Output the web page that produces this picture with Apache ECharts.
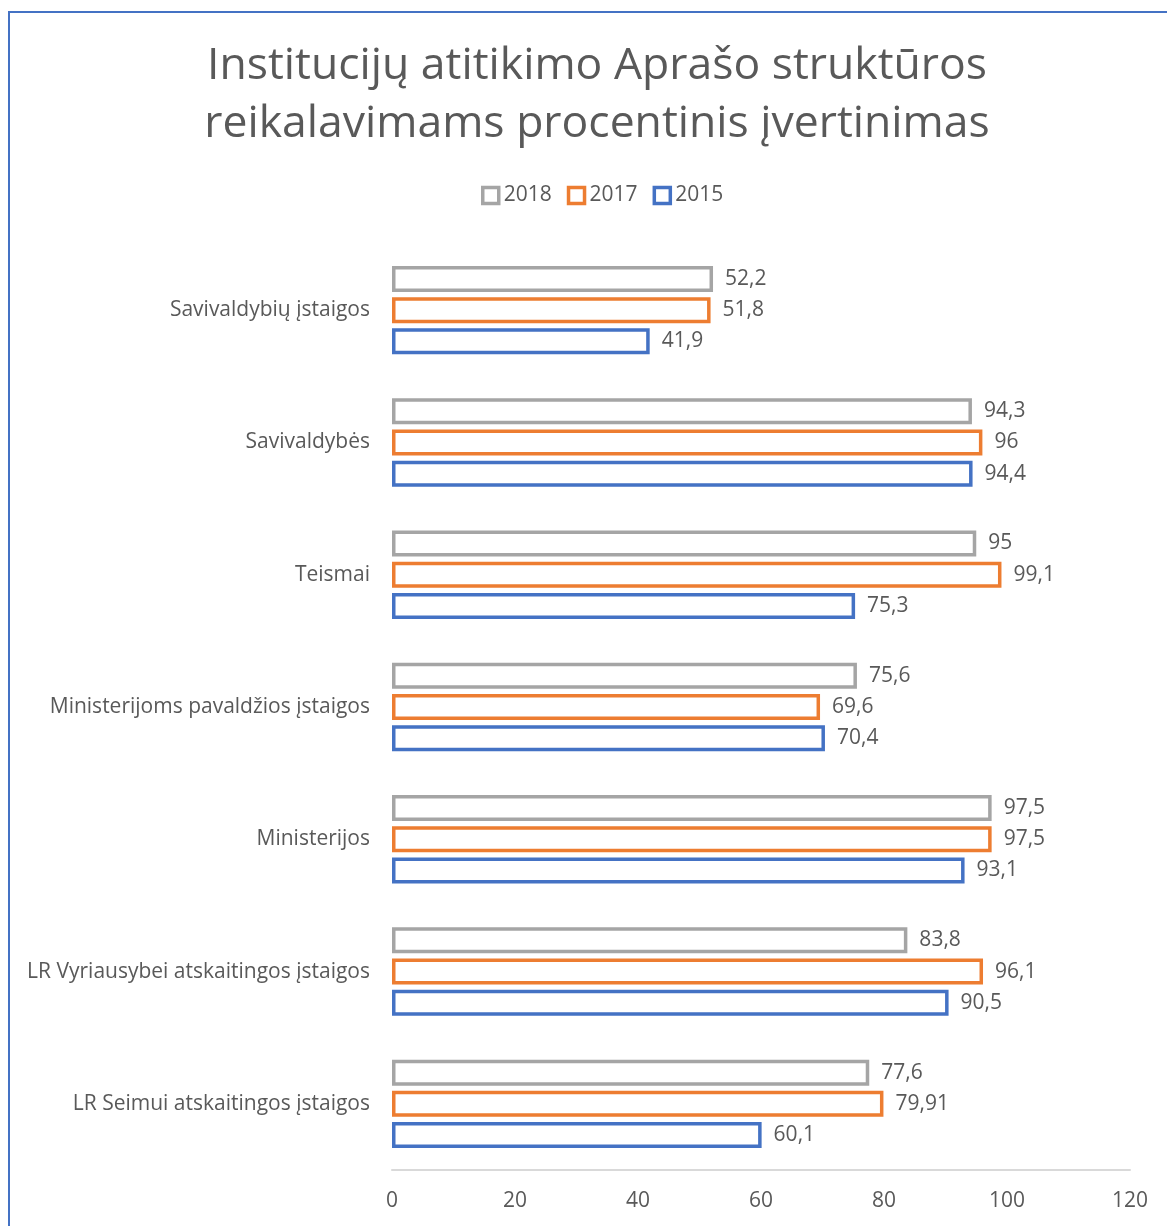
<!DOCTYPE html>
<html>
<head>
<meta charset="utf-8">
<script src="https://cdn.jsdelivr.net/npm/echarts@6/dist/echarts.min.js"></script>
<style>
  html, body { margin: 0; padding: 0; background: #fff; }
  #frame {
    position: absolute; left: 8px; top: 11px; width: 1200px; height: 1260px;
    border-top: 2px solid #4472c4; border-left: 2px solid #4472c4;
  }
  #chart { position: absolute; left: 0; top: 0; width: 1167px; height: 1226px; }
</style>
</head>
<body>
<div id="frame"></div>
<div id="chart"></div>
<script>
let categories = [
    'Savivaldybių įstaigos',
    'Savivaldybės',
    'Teismai',
    'Ministerijoms pavaldžios įstaigos',
    'Ministerijos',
    'LR Vyriausybei atskaitingos įstaigos',
    'LR Seimui atskaitingos įstaigos'
];
let years = ['2018', '2017', '2015'];
let values2018 = [52.2, 94.3, 95, 75.6, 97.5, 83.8, 77.6];
let values2017 = [51.8, 96, 99.1, 69.6, 97.5, 96.1, 79.91];
let values2015 = [41.9, 94.4, 75.3, 70.4, 93.1, 90.5, 60.1];
let xTicks = [0, 20, 40, 60, 80, 100, 120];

let colors = ['#a5a5a5', '#ed7d31', '#4472c4'];
let textColor = '#595959';
let font = 'Open Sans';

let makeSeries = (name, data, color) => ({
    name: name,
    type: 'bar',
    data: data,
    barWidth: 26,
    barGap: '20%',
    itemStyle: { color: '#fff', borderColor: color, borderWidth: 3.5 },
    label: {
        show: true,
        position: 'right',
        distance: 12,
        color: textColor,
        fontFamily: font,
        fontSize: 21,
        formatter: p => String(p.value).replace('.', ',')
    },
    emphasis: { disabled: true }
});

let option = {
    animation: false,
    title: {
        text: 'Institucijų atitikimo Aprašo struktūros\nreikalavimams procentinis įvertinimas',
        left: 592,
        textAlign: 'center',
        top: 32,
        textStyle: {
            color: textColor,
            fontFamily: font,
            fontWeight: 'normal',
            fontSize: 44.5,
            lineHeight: 58
        }
    },
    legend: {
        data: years,
        top: 180,
        left: 476,
        itemWidth: 16,
        itemHeight: 16,
        itemGap: 15,
        icon: 'rect',
        itemStyle: { borderWidth: 3.5 },
        textStyle: { color: textColor, fontFamily: font, fontSize: 21 }
    },
    grid: { left: 392, right: 37, top: 244, bottom: 56, containLabel: false },
    xAxis: {
        type: 'value',
        min: xTicks[0],
        max: xTicks[xTicks.length - 1],
        interval: 20,
        splitLine: { show: false },
        axisLine: { show: true, lineStyle: { color: '#d9d9d9', width: 2 } },
        axisTick: { show: false },
        axisLabel: { color: textColor, fontFamily: font, fontSize: 21, margin: 21 }
    },
    yAxis: {
        type: 'category',
        inverse: true,
        data: categories,
        axisLine: { show: false },
        axisTick: { show: false },
        axisLabel: { color: textColor, fontFamily: font, fontSize: 21, margin: 22 }
    },
    series: [
        makeSeries(years[0], values2018, colors[0]),
        makeSeries(years[1], values2017, colors[1]),
        makeSeries(years[2], values2015, colors[2])
    ]
};

let chart = echarts.init(document.getElementById('chart'));
chart.setOption(option);
</script>
</body>
</html>
